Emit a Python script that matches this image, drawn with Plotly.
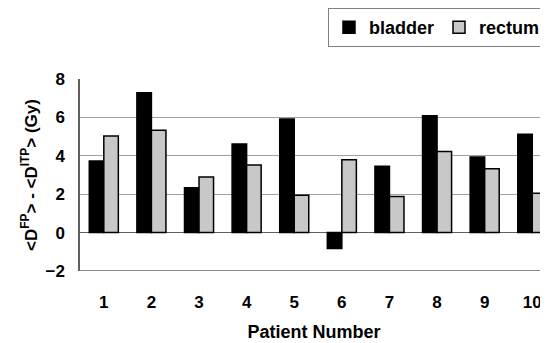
import plotly.graph_objects as go

patients = ["1", "2", "3", "4", "5", "6", "7", "8", "9", "10"]
bladder = [3.73, 7.29, 2.33, 4.62, 5.92, -0.83, 3.46, 6.08, 3.94, 5.12]
rectum = [5.03, 5.33, 2.90, 3.52, 1.95, 3.79, 1.88, 4.22, 3.33, 2.05]
y_ticks = [-2, 0, 2, 4, 6, 8]

font_family = "Liberation Sans, Arial, sans-serif"

fig = go.Figure()
fig.add_trace(go.Bar(x=patients, y=bladder, name="<b>bladder</b>",
                     marker=dict(color="#000000", line=dict(color="#000000", width=1.5))))
fig.add_trace(go.Bar(x=patients, y=rectum, name="<b>rectum</b>",
                     marker=dict(color="#c8c8c8", line=dict(color="#000000", width=1.5))))

# page body adds an 8px offset; figure is sized so it ends at the window edge
fig.update_layout(
    width=540, height=335,
    margin=dict(l=72, r=0, t=71, b=72, autoexpand=False),
    paper_bgcolor="white", plot_bgcolor="white",
    barmode="group", bargap=0.39, bargroupgap=0,
    font=dict(family=font_family, color="#000000"),
    legend=dict(orientation="h", x=0.9957, y=1.37, xanchor="right", yanchor="top",
                bordercolor="#808080", borderwidth=1,
                font=dict(size=18, family=font_family),
                itemwidth=30, tracegroupgap=0),
    xaxis=dict(range=[-0.5, 9.33], showline=False, showgrid=False,
               ticks="", tickfont=dict(size=17, weight="bold"),
               ticklabelstandoff=19,
               title=dict(text="<b>Patient Number</b>", font=dict(size=18), standoff=14)),
    yaxis=dict(range=[-2, 8], tickvals=y_ticks, showgrid=True, gridcolor="#a0a0a0",
               gridwidth=1, zeroline=True, zerolinecolor="#606060", zerolinewidth=1,
               showline=True, linecolor="#606060", linewidth=1.5,
               ticks="", tickfont=dict(size=17, weight="bold"),
               ticklabelstandoff=10,
               title=dict(text="<b>&lt;D<sup>FP</sup>&gt; - &lt;D<sup>ITP</sup>&gt; (Gy)</b>",
                          font=dict(size=17), standoff=4)),
)

# bottom border of plot area
fig.add_shape(type="line", xref="paper", yref="y", x0=0, x1=1, y0=-2, y1=-2,
              line=dict(color="#606060", width=1.5))

fig.write_html("out.html")
